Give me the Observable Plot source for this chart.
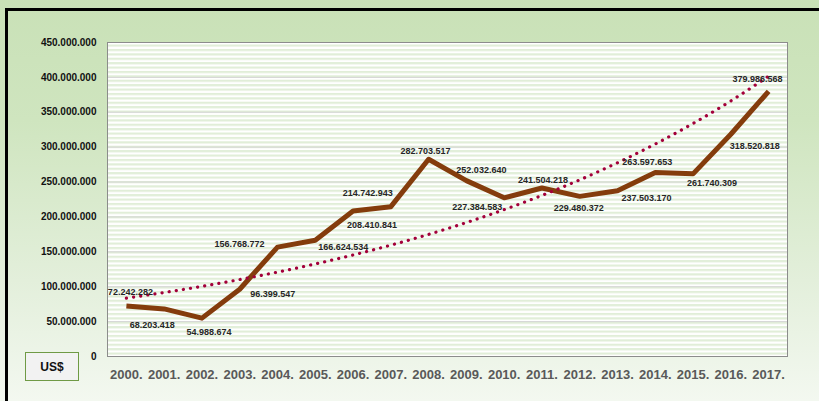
<!DOCTYPE html>
<html>
<head>
<meta charset="utf-8">
<script src="https://cdn.jsdelivr.net/npm/d3@7"></script>
<script src="https://cdn.jsdelivr.net/npm/@observablehq/plot@0.6"></script>
<style>
  html, body { margin: 0; padding: 0; background: #fff; }
  #wrap {
    position: relative; width: 819px; height: 401px; overflow: hidden;
    background: linear-gradient(180deg, #c9e1b7 0%, #cfe5bf 30%, #e3efdb 70%, #f3f8f0 100%);
    font-family: "Liberation Sans", Arial, sans-serif;
  }
  #frame {
    position: absolute; left: 5px; top: 8px; right: -10px; bottom: -10px;
    border-top: 3px solid #000; border-left: 3px solid #000; pointer-events: none;
  }
  #unit {
    position: absolute; left: 25px; top: 352px; width: 54px; height: 29px;
    background: #f2f2f2; border: 1px solid #6f9a45; box-sizing: border-box;
    font: bold 12px "Liberation Sans", Arial, sans-serif; color: #111;
    display: flex; align-items: center; justify-content: center;
  }
  #chart { position: absolute; left: 0; top: 0; }
</style>
</head>
<body>
<div id="wrap">
  <div id="chart"></div>
  <div id="frame"></div>
  <div id="unit">US$</div>
</div>
<script>
const years = ["2000","2001","2002","2003","2004","2005","2006","2007","2008","2009","2010","2011","2012","2013","2014","2015","2016","2017"];
const values = [72242282, 68203418, 54988674, 96399547, 156768772, 166624534, 208410841, 214742943, 282703517, 252032640, 227384583, 241504218, 229480372, 237503170, 263597653, 261740309, 318520818, 379986568];
const yTicks = [0, 50000000, 100000000, 150000000, 200000000, 250000000, 300000000, 350000000, 400000000, 450000000];

// label placement offsets (pixels, relative to each point)
const labelDx = [4, -12, 7, 33, -38, 28, 19, -23, -3, 15, -27, 1, -1, 29, -8, 19, 24, -11];
const labelDy = [-14, 16, 14, 5, -3, 7, 14, -14, -8, -11, 9, -8, 12, 7, -10, 9, 12, -12];

const fmt = d3.formatLocale({decimal: ",", thousands: ".", grouping: [3], currency: ["", ""]}).format(",d");

const rows = years.map((y, i) => ({year: y, value: values[i], i}));

// Exponential trendline (least squares on ln(value)), as in the original spreadsheet
const n = values.length;
const lx = d3.range(n), ly = values.map(v => Math.log(v));
const mx = d3.mean(lx), my = d3.mean(ly);
const b = d3.sum(lx, (x, k) => (x - mx) * (ly[k] - my)) / d3.sum(lx, x => (x - mx) ** 2);
const a = my - b * mx;
const trend = years.map((y, i) => ({year: y, value: Math.exp(a + b * i)}));

const labelMarks = rows.map(r => Plot.text([r], {
  x: "year", y: "value", text: d => fmt(d.value),
  dx: labelDx[r.i], dy: labelDy[r.i],
  fontSize: 9, fontWeight: "bold", fill: "#262626"
}));

const chart = Plot.plot({
  width: 819, height: 401,
  marginLeft: 107, marginRight: 32, marginTop: 42, marginBottom: 45,
  style: {background: "transparent", fontFamily: "'Liberation Sans', Arial, sans-serif", overflow: "visible"},
  x: {type: "point", domain: years, padding: 0.5, round: false, label: null},
  y: {domain: [0, 450000000], label: null},
  marks: [
    Plot.frame({fill: "url(#stripes)", stroke: "none"}),
    Plot.gridY(yTicks, {stroke: "#d4d4d4", strokeOpacity: 1, strokeWidth: 1}),
    Plot.frame({stroke: "#8c8c8c", fill: "none", strokeWidth: 1}),
    Plot.axisY(yTicks, {tickSize: 0, tickPadding: 11, tickFormat: fmt, fontSize: 10, fontWeight: "bold", fill: "#111", label: null}),
    Plot.axisX({tickSize: 0, tickPadding: 13, tickFormat: d => d + ".", fontSize: 13, fontWeight: "bold", fill: "#595959", label: null}),
    Plot.line(rows, {x: "year", y: "value", stroke: "#843c0c", strokeWidth: 5, strokeLinejoin: "round", strokeLinecap: "butt"}),
    Plot.line(trend, {x: "year", y: "value", stroke: "#a3003a", strokeWidth: 3.2, strokeDasharray: "0.1 7.1", strokeLinecap: "round", curve: "natural"}),
    ...labelMarks
  ]
});

// stripe pattern for the plot area
const ns = "http://www.w3.org/2000/svg";
const defs = document.createElementNS(ns, "defs");
defs.innerHTML = `<pattern id="stripes" patternUnits="userSpaceOnUse" x="0" y="0" width="10" height="4.4">
  <rect x="0" y="0" width="10" height="4.4" fill="#ffffff"/>
  <rect x="0" y="0" width="10" height="2.2" fill="#e1eed8"/>
</pattern>`;
chart.insertBefore(defs, chart.firstChild);
document.getElementById("chart").appendChild(chart);
</script>
</body>
</html>
